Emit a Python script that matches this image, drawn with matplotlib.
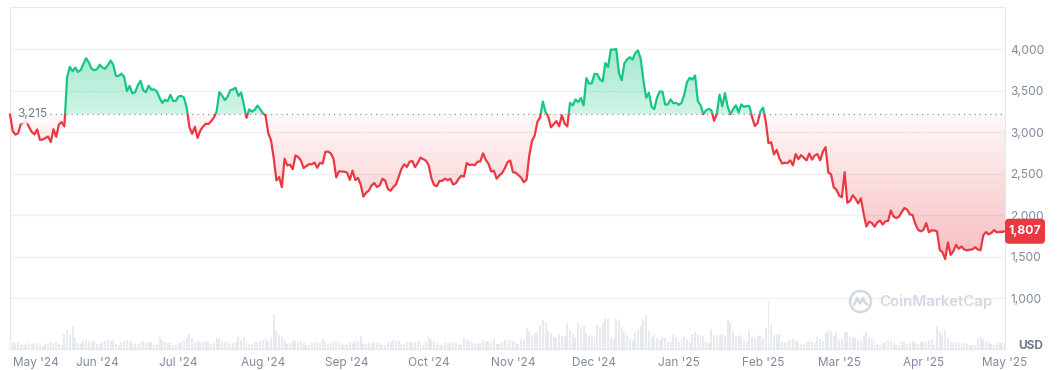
import numpy as np
import pandas as pd
import matplotlib
matplotlib.use("Agg")
import matplotlib.pyplot as plt
import matplotlib.dates as mdates
from matplotlib.patches import Rectangle, FancyBboxPatch, Circle
from matplotlib.lines import Line2D
from matplotlib.transforms import IdentityTransform

plt.rcParams['font.family'] = ['Inter', 'DejaVu Sans']

# ---------------- data ----------------
start_date = "2024-04-30"
end_date = "2025-05-01"
base_price = 3215
last_price = 1807

price_apr24 = [3215]
price_may24 = [3014, 2972, 2988, 3103, 3117, 3137, 3063, 3005, 2974, 3036, 2910, 2912, 2930, 2950, 2882, 3037,
               2945, 3094, 3124, 3071, 3664, 3790, 3737, 3780, 3728, 3750, 3826, 3893, 3842, 3768, 3747]
price_jun24 = [3762, 3815, 3781, 3767, 3810, 3866, 3812, 3678, 3681, 3707, 3667, 3497, 3560, 3469, 3482, 3566,
               3622, 3509, 3484, 3562, 3515, 3517, 3494, 3418, 3355, 3391, 3375, 3452, 3379, 3380]
price_jul24 = [3433, 3440, 3419, 3295, 3061, 2982, 3066, 2932, 3021, 3068, 3104, 3100, 3133, 3178, 3249, 3486,
               3443, 3389, 3427, 3507, 3518, 3537, 3440, 3480, 3336, 3174, 3276, 3250, 3271, 3322, 3280]
price_aug24 = [3232, 3203, 2988, 2905, 2690, 2420, 2460, 2339, 2682, 2600, 2610, 2555, 2720, 2702, 2661, 2569,
               2592, 2616, 2613, 2636, 2572, 2631, 2622, 2763, 2768, 2746, 2680, 2457, 2529, 2528, 2525]
price_sep24 = [2513, 2426, 2538, 2424, 2450, 2368, 2225, 2272, 2297, 2359, 2388, 2340, 2360, 2440, 2418, 2316,
               2295, 2340, 2372, 2465, 2560, 2614, 2582, 2646, 2653, 2580, 2632, 2695, 2677, 2658]
price_oct24 = [2603, 2448, 2363, 2350, 2415, 2414, 2441, 2422, 2440, 2370, 2386, 2438, 2476, 2466, 2629, 2606,
               2611, 2604, 2646, 2648, 2747, 2669, 2620, 2527, 2535, 2440, 2480, 2508, 2566, 2639, 2660]
price_nov24 = [2519, 2513, 2483, 2455, 2397, 2428, 2718, 2895, 2962, 3126, 3180, 3370, 3247, 3188, 3060, 3098,
               3135, 3072, 3206, 3105, 3071, 3356, 3324, 3395, 3365, 3414, 3323, 3654, 3587, 3591]
price_dec24 = [3704, 3703, 3638, 3614, 3836, 3786, 3998, 3997, 4005, 3712, 3629, 3833, 3880, 3906, 3877, 3957,
               3987, 3887, 3626, 3416, 3477, 3309, 3280, 3419, 3492, 3489, 3335, 3336, 3397, 3350, 3356]
price_jan25 = [3332, 3354, 3452, 3603, 3657, 3635, 3686, 3378, 3328, 3219, 3265, 3282, 3265, 3138, 3225, 3454,
               3313, 3473, 3307, 3218, 3279, 3325, 3240, 3336, 3306, 3318, 3314, 3179, 3075, 3112, 3250]
price_feb25 = [3298, 3128, 2869, 2880, 2734, 2788, 2687, 2624, 2632, 2629, 2661, 2602, 2738, 2676, 2725, 2694,
               2662, 2744, 2671, 2720, 2737, 2662, 2766, 2821, 2514, 2495, 2337, 2308]
price_mar25 = [2237, 2217, 2519, 2150, 2171, 2241, 2201, 2142, 2203, 2021, 1865, 1921, 1908, 1862, 1911, 1937,
               1888, 1927, 1931, 2058, 1984, 1966, 1983, 2039, 2087, 2067, 2010, 2003, 1896, 1827, 1806]
price_apr25 = [1822, 1906, 1795, 1818, 1816, 1805, 1580, 1554, 1472, 1671, 1522, 1566, 1644, 1595, 1623, 1586,
               1577, 1584, 1587, 1614, 1587, 1578, 1757, 1797, 1769, 1787, 1821, 1793, 1799, 1799]
price_may25 = [last_price]

# daily volume, billions USD
vol_apr24 = [20]
vol_may24 = [14, 13, 14, 10, 9, 11, 12, 11, 13, 12, 8, 7, 11, 12, 15, 13, 14, 10, 9, 31, 40, 31, 47, 23, 12, 13,
             19, 18, 17, 15, 16]
vol_jun24 = [10, 11, 15, 17, 18, 16, 19, 10, 9, 14, 17, 18, 16, 13, 10, 11, 15, 17, 13, 14,
             15, 9, 10, 23, 18, 15, 13, 12, 8, 9]
vol_jul24 = [13, 14, 17, 22, 31, 22, 14, 16, 15, 14, 16, 14, 10, 12, 23, 22, 17, 15, 14, 11,
             12, 15, 25, 18, 24, 16, 11, 10, 14, 15, 17]
vol_aug24 = [19, 20, 17, 22, 73, 38, 29, 26, 18, 10, 12, 18, 16, 14, 17, 13, 9, 8, 12, 14,
             15, 13, 20, 14, 11, 12, 19, 16, 13, 11, 9]
vol_sep24 = [10, 14, 13, 17, 14, 27, 12, 10, 13, 12, 14, 12, 13, 9, 9, 14, 15, 18, 17, 16,
             11, 10, 15, 14, 13, 14, 17, 14, 9, 14]
vol_oct24 = [25, 21, 17, 12, 8, 9, 14, 12, 12, 14, 13, 9, 10, 22, 19, 17, 15, 13, 10, 12,
             18, 16, 17, 15, 20, 10, 10, 14, 18, 17, 18]
vol_nov24 = [17, 12, 11, 20, 19, 44, 38, 30, 33, 35, 50, 60, 56, 38, 34, 25, 22, 31, 28, 27,
             54, 40, 32, 26, 54, 45, 48, 33, 27, 30]
vol_dec24 = [28, 50, 46, 55, 64, 62, 25, 21, 62, 60, 45, 36, 30, 20, 18, 35, 40, 48, 62, 70,
             38, 25, 30, 23, 18, 25, 22, 15, 15, 29, 25]
vol_jan25 = [15, 22, 26, 18, 13, 31, 35, 32, 30, 27, 14, 12, 42, 30, 27, 29, 32, 27, 60, 56,
             38, 28, 30, 26, 18, 15, 40, 25, 22, 28, 30]
vol_feb25 = [22, 44, 100, 50, 30, 29, 32, 14, 13, 17, 18, 20, 17, 15, 11, 10, 14, 17, 15, 13,
             25, 20, 16, 33, 40, 38, 28, 36]
vol_mar25 = [19, 22, 36, 35, 26, 24, 22, 18, 17, 30, 35, 22, 20, 15, 10, 9, 13, 15, 19, 16,
             12, 9, 9, 15, 14, 11, 12, 16, 13, 10, 14]
vol_apr25 = [16, 14, 18, 20, 9, 48, 35, 30, 40, 22, 15, 12, 14, 13, 12, 13, 11, 9, 8, 9,
             23, 25, 20, 17, 15, 10, 9, 12, 14, 13]
vol_may25 = [12]

y_ticks = [1000, 1500, 2000, 2500, 3000, 3500, 4000]

prices = np.array(price_apr24 + price_may24 + price_jun24 + price_jul24 + price_aug24 + price_sep24 +
                  price_oct24 + price_nov24 + price_dec24 + price_jan25 + price_feb25 + price_mar25 +
                  price_apr25 + price_may25, dtype=float)
volumes = np.array(vol_apr24 + vol_may24 + vol_jun24 + vol_jul24 + vol_aug24 + vol_sep24 + vol_oct24 +
                   vol_nov24 + vol_dec24 + vol_jan25 + vol_feb25 + vol_mar25 + vol_apr25 + vol_may25,
                   dtype=float)
dates = pd.date_range(start_date, end_date, freq="D")
assert len(dates) == len(prices) == len(volumes)
xnum = mdates.date2num(dates)

# ---------------- style ----------------
GREEN = "#16c784"
RED = "#ea3943"
GRID = "#eff1f4"
SPINE = "#e4e7eb"
LABEL = "#808a9d"

W, H, DPI = 1063, 370, 100
fig = plt.figure(figsize=(W / DPI, H / DPI), dpi=DPI)
fig.patch.set_facecolor("white")

L, R, T, B = 10, 1005, 7, 349
rect = [L / W, (H - B) / H, (R - L) / W, (B - T) / H]

# volume axes (behind)
axv = fig.add_axes(rect)
axv.bar(xnum, volumes, width=0.72, color="#e7eaef", linewidth=0)
axv.set_xlim(xnum[0], xnum[-1])
axv.set_ylim(0, 712)
axv.axis("off")

# price axes
ax = fig.add_axes(rect)
ax.patch.set_visible(False)
ylo, yhi = 387, 4511
x0, x1 = xnum[0], xnum[-1]

# gradient fills clipped to the area between the line and the base price
poly = ax.fill_between(xnum, prices, base_price, facecolor="none", edgecolor="none", interpolate=True)
clip = poly.get_paths()[0]

g = np.zeros((256, 1, 4))
g[..., :3] = matplotlib.colors.to_rgb(GREEN)
g[:, 0, 3] = np.linspace(0.20, 0.42, 256)
img = ax.imshow(g, extent=[x0, x1, base_price, 4100], origin="lower", aspect="auto", zorder=1,
                interpolation="bilinear")
img.set_clip_path(clip, transform=ax.transData)

r = np.zeros((256, 1, 4))
r[..., :3] = matplotlib.colors.to_rgb(RED)
r[:, 0, 3] = np.linspace(0.34, 0.04, 256)
img2 = ax.imshow(r, extent=[x0, x1, 1400, base_price], origin="lower", aspect="auto", zorder=1,
                 interpolation="bilinear")
img2.set_clip_path(clip, transform=ax.transData)

# lines, colored by side of base
lg, = ax.plot(xnum, prices, color=GREEN, lw=1.6, zorder=3, solid_joinstyle="round")
lg.set_clip_path(Rectangle((x0 - 50, base_price), x1 - x0 + 100, 10000, transform=ax.transData))
lr, = ax.plot(xnum, prices, color=RED, lw=1.6, zorder=3, solid_joinstyle="round")
lr.set_clip_path(Rectangle((x0 - 50, -10000), x1 - x0 + 100, base_price + 10000, transform=ax.transData))

# dotted base line
ax.axhline(base_price, xmin=0.04, xmax=1, color="#8f949c", lw=0.9, ls=(0, (1, 3.2)), zorder=2)

ax.set_xlim(x0, x1)
ax.set_ylim(ylo, yhi)

# axes styling
for s in ax.spines.values():
    s.set_color(SPINE)
    s.set_linewidth(0.8)
ax.yaxis.tick_right()
ax.set_yticks(y_ticks)
ax.set_yticklabels([f"{v:,}" for v in y_ticks])
ax.tick_params(axis="y", length=0, pad=4, labelsize=8.6, labelcolor=LABEL)
ax.grid(axis="y", color=GRID, lw=1.0, zorder=0)
ax.set_axisbelow(True)

month_ticks = pd.date_range("2024-05-01", "2025-05-01", freq="MS")
ax.set_xticks(mdates.date2num(month_ticks))
ax.set_xticklabels([d.strftime("%b '%y") for d in month_ticks])
ax.tick_params(axis="x", length=0, pad=6, labelsize=8.5, labelcolor=LABEL)
ax.get_xticklabels()[0].set_horizontalalignment("left")

# base price label
ax.annotate(f"{base_price:,}", xy=(x0, base_price), xytext=(5, 0), textcoords="offset points",
            ha="left", va="center", fontsize=8.6, color="#6f7a8e", zorder=5,
            bbox=dict(boxstyle="round,pad=0.25,rounding_size=0.4", fc="white", ec="none", alpha=0.85))

fig.canvas.draw()
# current price tag
px, py = ax.transData.transform((x1, last_price))
tag = FancyBboxPatch((px, py - 12.5), 40, 25, boxstyle="round,pad=0,rounding_size=4",
                     transform=IdentityTransform(), fc=RED, ec="none", zorder=10)
fig.add_artist(tag)
fig.text((px + 20) / W, py / H, f"{last_price:,}", ha="center", va="center", color="white",
         fontsize=8.8, fontweight="bold", zorder=11)

# currency label
fig.text(1018 / W, (H - 346) / H, "USD", ha="left", va="center", color="#6f7a8e",
         fontsize=8.6, fontweight="bold")

# watermark
WM = "#d3d9e3"
cx, cy = 860.5, H - 301.5
fig.add_artist(Circle((cx, cy), 10.5, transform=IdentityTransform(), fill=False, ec=WM, lw=1.8))
wx = [cx - 6.5, cx - 3.2, cx - 0.5, cx + 2.5, cx + 4.5, cx + 7]
wy = [cy - 3.5, cy + 3.5, cy - 2, cy + 3.5, cy - 1.5, cy - 3]
fig.add_artist(Line2D(wx, wy, transform=IdentityTransform(), color=WM, lw=1.8,
                      solid_joinstyle="round", solid_capstyle="round"))
fig.text(879 / W, cy / H, "CoinMarketCap", ha="left", va="center", color=WM,
         fontsize=10.8, fontweight="semibold")

fig.savefig("out.png", dpi=DPI, facecolor="white")
